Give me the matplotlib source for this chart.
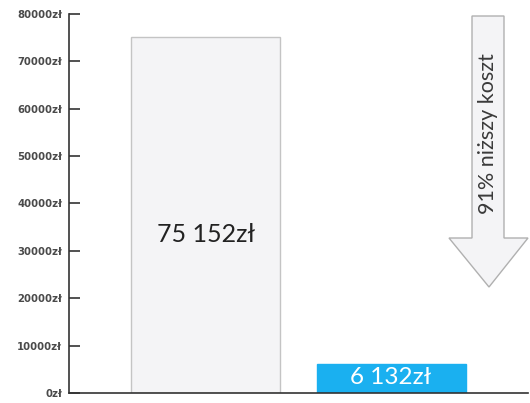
import matplotlib
matplotlib.use("Agg")
import matplotlib.pyplot as plt
from matplotlib.patches import Polygon
from matplotlib.ticker import FuncFormatter

categories = ["A", "B"]
values = [75152, 6132]
labels = ["75 152zł", "6 132zł"]
yticks = [0, 10000, 20000, 30000, 40000, 50000, 60000, 70000, 80000]
arrow_text = "91% niższy koszt"

plt.rcParams['font.family'] = ['Lato', 'DejaVu Sans']

fig = plt.figure(figsize=(5.30, 4.03), dpi=100)
L, R, T, B = 69, 528, 14, 393
W, H = 530, 403
ax = fig.add_axes([L / W, (H - B) / H, (R - L) / W, (B - T) / H])

x = list(range(len(categories)))
bars = ax.bar(x, values, width=0.805,
              color=["#f4f4f6", "#1ab0f0"],
              edgecolor=["#c4c4c4", "#1ab0f0"], linewidth=1.0, zorder=2)

ax.set_xlim(-0.74, 1.74)
ax.set_ylim(0, 80000)
ax.set_yticks(yticks)
ax.yaxis.set_major_formatter(FuncFormatter(lambda v, p: f"{int(v)}zł"))
ax.set_xticks([])
for s in ["top", "right"]:
    ax.spines[s].set_visible(False)
for s in ["left", "bottom"]:
    ax.spines[s].set_color("#333333")
    ax.spines[s].set_linewidth(1.2)
ax.tick_params(axis="y", direction="in", length=8, width=1.2, color="#333333",
               labelsize=7.3, labelcolor="#4a4a4a", pad=5)
for t in ax.get_yticklabels():
    t.set_family("DejaVu Sans")
    t.set_fontweight("bold")

# value labels
ax.text(x[0], values[0] * 0.445, labels[0], ha="center", va="center",
        fontsize=18, color="#222222", zorder=3)
ax.text(x[1], values[1] / 2 + 200, labels[1], ha="center", va="center",
        fontsize=17.5, color="white", zorder=3)

# arrow (axes fraction)
def fx(px):
    return (px - L) / (R - L)

def fy(py):
    return (B - py) / (B - T)

pts = [(fx(472), fy(16)), (fx(504), fy(16)), (fx(504), fy(238)), (fx(528), fy(238)),
       (fx(489), fy(287)), (fx(449), fy(238)), (fx(472), fy(238))]
arrow = Polygon(pts, closed=True, transform=ax.transAxes, facecolor="#f4f4f6",
                edgecolor="#b0b0b0", linewidth=1.0, clip_on=False, zorder=2)
ax.add_patch(arrow)
ax.text(fx(488), fy(134), arrow_text, transform=ax.transAxes, rotation=90,
        ha="center", va="center", fontsize=15.5, color="#3a3a3a", zorder=3)

fig.savefig("out.png", dpi=100)
